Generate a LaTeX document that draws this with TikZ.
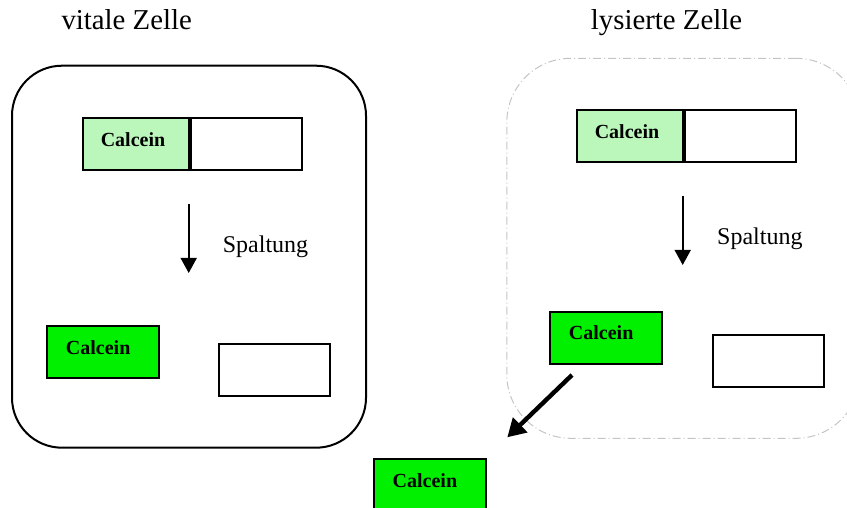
\documentclass[tikz,border=0pt]{standalone}
\usepackage{fontspec}
\setmainfont{Liberation Serif}
\usetikzlibrary{arrows.meta,positioning}
\definecolor{paleleaf}{HTML}{BBF7BB}
\definecolor{leaf}{HTML}{00F000}
\definecolor{membrane}{HTML}{C4C4C4}

\begin{document}
\begin{tikzpicture}[
  x=0.5pt,y=-0.5pt,
  font=\large,
  cellwall/.style={draw=black,line width=1pt,rounded corners=25pt,minimum width=177pt,minimum height=191pt},
  lysed/.style={draw=membrane,line width=0.5pt,rounded corners=32pt,minimum width=176.6pt,minimum height=190pt,
    dash pattern=on 4pt off 1.5pt on 0.5pt off 1.5pt},
  part/.style={draw=black,line width=1pt,inner sep=0pt,minimum width=56pt,minimum height=26pt,
    text height=6.9pt,text depth=4.7pt,font=\normalsize\bfseries},
  bound/.style={part,fill=paleleaf,minimum width=53pt,execute at begin node={\hspace*{-2.7pt}}},
  free/.style={part,fill=leaf,execute at begin node={\hspace*{-5pt}}},
  rest/.style={part,fill=white,minimum width=55.7pt},
  title/.style={font=\Large,anchor=base},
  split/.style={-{Triangle[length=7.5pt,width=8pt]},line width=0.8pt},
  efflux/.style={-{Triangle[length=9pt,width=10pt]},line width=2.2pt}]
\useasboundingbox (0,0) rectangle (847,508);
% the two cells
\node[cellwall] (vital) at (189,256.7) {};
\node[lysed] (lysis) at (683.4,248.3) {};
\node[title] (vitalname) at (126.7,30) {vitale Zelle};
\node[title] (lysisname) at (666.5,30) {lysierte Zelle};
% vital cell
\node[bound] (dyeL) at (135.7,144.5) {Calcein};
\node[rest,right=0pt of dyeL] (esterL) {};
\coordinate (splitLa) at (188.7,204);
\coordinate (splitLb) at (188.7,273);
\draw[split] (splitLa) -- (splitLb);
\node[anchor=base] (cutL) at (265.5,252) {Spaltung};
\node[free] (freeL) at (103.2,352) {Calcein};
\node[rest] (restL) at (274.2,369.5) {};
% lysed cell
\node[bound] (dyeR) at (629.7,136) {Calcein};
\node[rest,right=0pt of dyeR] (esterR) {};
\coordinate (splitRa) at (682.7,196);
\coordinate (splitRb) at (682.7,265);
\draw[split] (splitRa) -- (splitRb);
\node[anchor=base] (cutR) at (759.9,244) {Spaltung};
\node[free] (freeR) at (606.2,337.7) {Calcein};
\node[rest] (restR) at (768.4,360.5) {};
% released dye
\coordinate (leakA) at (572,375);
\coordinate (leakB) at (507.3,437.3);
\draw[efflux] (leakA) -- (leakB);
\node[free] (outside) at (429.9,485) {Calcein};
\end{tikzpicture}
\end{document}
